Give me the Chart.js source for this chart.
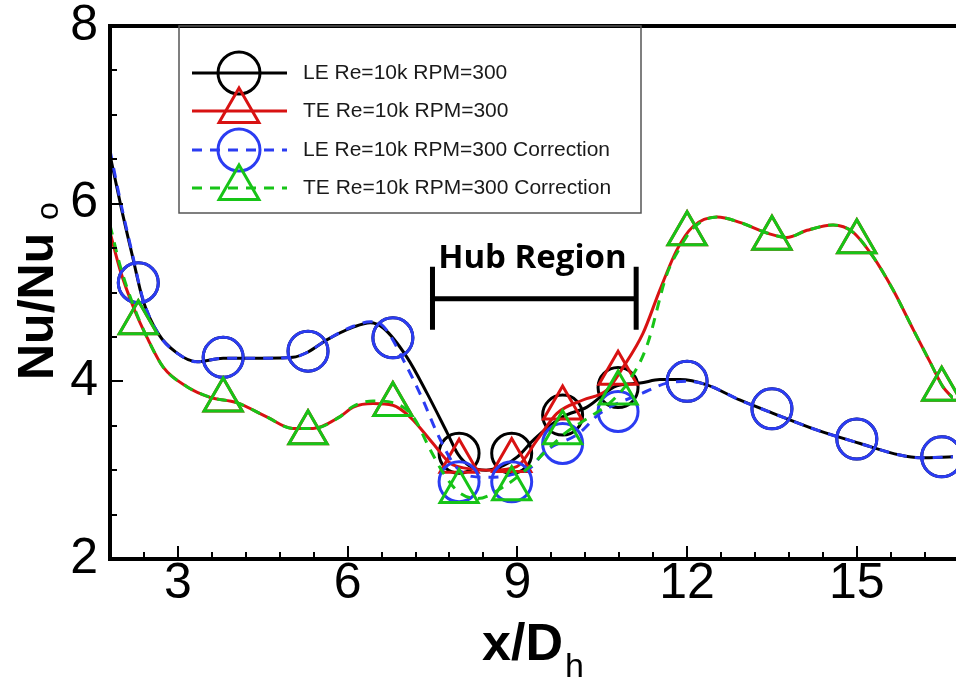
<!DOCTYPE html>
<html>
<head>
<meta charset="utf-8">
<script src="https://cdn.jsdelivr.net/npm/chart.js@4.4.0/dist/chart.umd.min.js"></script>
<style>
  html, body { margin: 0; padding: 0; background: #fff; }
  #wrap { width: 956px; height: 683px; position: relative; }
</style>
</head>
<body>
<div id="wrap"><canvas id="chart" width="956" height="683"></canvas></div>
<script>
// marker positions (x/Dh) and values
const markerX = [2.3, 3.8, 5.3, 6.8, 7.97, 8.9, 9.8, 10.78, 12.0, 13.5, 15.0, 16.5];
const leMarkY = [5.11, 4.27, 4.34, 4.49, 3.19, 3.19, 3.62, 3.93, 4.0, 3.69, 3.35, 3.15];
const teMarkY = [4.66, 3.79, 3.42, 3.74, 3.1, 3.11, 3.7, 4.09, 5.66, 5.61, 5.57, 3.91];
const leCorrMarkY = [5.11, 4.27, 4.34, 4.49, 2.87, 2.87, 3.3, 3.66, 4.0, 3.69, 3.35, 3.15];
const teCorrMarkY = [4.66, 3.79, 3.42, 3.74, 2.76, 2.79, 3.42, 3.87, 5.66, 5.61, 5.57, 3.91];

// curve points
const leLineX = [1.8, 2.0, 2.2, 2.38, 2.65, 2.98, 3.34, 3.8, 4.5, 5.03, 5.3, 5.64, 6.1, 6.4, 6.63, 7.05, 7.4, 7.76, 7.95, 8.15, 8.45, 8.75, 9.0, 9.3, 9.8, 10.23, 10.76, 11.17, 11.52, 11.87, 12.35, 12.93, 13.52, 14.3, 15.06, 15.76, 16.12, 16.7];
const leLineY = [6.55, 5.95, 5.4, 4.92, 4.54, 4.32, 4.22, 4.26, 4.26, 4.27, 4.33, 4.47, 4.61, 4.66, 4.6, 4.27, 3.87, 3.42, 3.18, 3.05, 3.0, 3.05, 3.15, 3.35, 3.6, 3.71, 3.95, 3.98, 4.02, 4.02, 3.96, 3.79, 3.64, 3.45, 3.3, 3.17, 3.14, 3.15];

const teLineX = [1.8, 1.98, 2.21, 2.45, 2.74, 3.16, 3.57, 4.04, 4.57, 5.03, 5.39, 5.86, 6.1, 6.45, 6.8, 7.1, 7.51, 7.81, 8.1, 8.57, 8.99, 9.35, 9.7, 10.16, 10.58, 10.87, 11.22, 11.52, 11.82, 12.1, 12.53, 12.93, 13.41, 13.76, 14.12, 14.58, 14.93, 15.29, 15.64, 16.0, 16.3, 16.52, 16.7];
const teLineY = [5.68, 5.25, 4.84, 4.5, 4.16, 3.94, 3.82, 3.76, 3.6, 3.47, 3.47, 3.6, 3.71, 3.75, 3.73, 3.6, 3.3, 3.08, 3.02, 3.0, 3.04, 3.34, 3.64, 3.79, 3.9, 4.16, 4.54, 5.03, 5.48, 5.74, 5.85, 5.79, 5.67, 5.62, 5.7, 5.76, 5.68, 5.4, 5.03, 4.58, 4.21, 3.94, 3.81];

const leCorrLineX = [1.8, 2.0, 2.2, 2.38, 2.65, 2.98, 3.34, 3.8, 4.5, 5.03, 5.3, 5.64, 6.1, 6.4, 6.63, 7.05, 7.33, 7.58, 7.9, 8.2, 8.5, 8.9, 9.28, 9.45, 10.1, 10.46, 11.22, 11.64, 12.0, 12.35, 12.93, 13.52, 14.3, 15.06, 15.76, 16.12, 16.7];
const leCorrLineY = [6.6, 5.98, 5.42, 4.93, 4.54, 4.32, 4.22, 4.26, 4.26, 4.27, 4.33, 4.47, 4.62, 4.67, 4.62, 4.16, 3.79, 3.42, 3.05, 2.93, 2.92, 2.95, 3.05, 3.19, 3.42, 3.64, 3.87, 3.98, 4.0, 3.96, 3.79, 3.64, 3.45, 3.3, 3.17, 3.14, 3.15];

const teCorrLineX = [1.8, 1.98, 2.21, 2.45, 2.74, 3.16, 3.57, 4.04, 4.57, 5.03, 5.39, 5.86, 6.1, 6.45, 6.8, 7.16, 7.46, 7.69, 7.95, 8.29, 8.75, 9.22, 9.58, 9.85, 10.28, 10.64, 10.99, 11.29, 11.64, 11.87, 12.1, 12.53, 12.93, 13.41, 13.76, 14.12, 14.58, 14.93, 15.29, 15.64, 16.0, 16.3, 16.52, 16.7];
const teCorrLineY = [5.76, 5.3, 4.86, 4.5, 4.16, 3.94, 3.82, 3.76, 3.6, 3.47, 3.47, 3.6, 3.72, 3.78, 3.76, 3.6, 3.23, 2.97, 2.76, 2.68, 2.81, 3.04, 3.26, 3.42, 3.6, 3.76, 4.02, 4.4, 5.2, 5.5, 5.72, 5.85, 5.79, 5.67, 5.62, 5.7, 5.76, 5.68, 5.4, 5.03, 4.58, 4.21, 3.94, 3.81];

const seriesNames = ['LE Re=10k RPM=300', 'TE Re=10k RPM=300', 'LE Re=10k RPM=300 Correction', 'TE Re=10k RPM=300 Correction'];
const xTickLabels = [3, 6, 9, 12, 15];
const yTickLabels = [2, 4, 6, 8];

const colors = ['#000000', '#d81212', '#2b3cf2', '#17c417'];
const styles = ['circle', 'triangle', 'circle', 'triangle'];
const dashes = [[], [], [10, 8], [10, 8]];

const pts = (xs, ys) => xs.map((x, i) => ({ x: x, y: ys[i] }));

const lines = [pts(leLineX, leLineY), pts(teLineX, teLineY), pts(leCorrLineX, leCorrLineY), pts(teCorrLineX, teCorrLineY)];
const marks = [pts(markerX, leMarkY), pts(markerX, teMarkY), pts(markerX, leCorrMarkY), pts(markerX, teCorrMarkY)];

const datasets = [];
for (let i = 0; i < 4; i++) {
    datasets.push({
        label: seriesNames[i],
        data: lines[i],
        borderColor: colors[i],
        borderWidth: 3,
        borderDash: dashes[i],
        pointRadius: 0,
        cubicInterpolationMode: 'monotone',
        fill: false,
        order: 20 - i * 2
    });
    datasets.push({
        label: seriesNames[i] + ' symbols',
        data: marks[i],
        showLine: false,
        pointStyle: styles[i],
        pointRadius: styles[i] === 'circle' ? 20 : 22,
        pointBorderWidth: 3,
        pointBorderColor: colors[i],
        pointBackgroundColor: 'rgba(0,0,0,0)',
        clip: false,
        order: 19 - i * 2
    });
}

// hub region annotation (in data units)
const hubText = 'Hub Region';
const hubFrom = 7.5, hubTo = 11.1, hubY = 4.93, hubCapLow = 4.58, hubCapHigh = 5.29;
const hubTextX = 7.6, hubTextY = 5.28;

const fontFamily = "'Liberation Sans', Arial, sans-serif";

// frame, inward ticks, titles, legend, annotation
const decorPlugin = {
    id: 'decor',
    afterDraw(chart) {
        const { ctx, chartArea: a, scales } = chart;
        const xs = scales.x, ys = scales.y;
        ctx.save();
        ctx.strokeStyle = '#000';
        ctx.lineCap = 'butt';

        // x ticks every 0.6, majors at multiples of 3
        ctx.lineWidth = 2;
        for (let k = 1; k < 25; k++) {
            const v = 1.8 + 0.6 * k;
            if (v > 16.7) break;
            const major = Math.abs(v / 3 - Math.round(v / 3)) < 1e-6;
            const px = Math.round(xs.getPixelForValue(v));
            ctx.beginPath();
            ctx.moveTo(px, a.bottom);
            ctx.lineTo(px, a.bottom - (major ? 13 : 7));
            ctx.stroke();
        }
        // y ticks every 0.5, majors at 2,4,6,8
        for (let k = 1; k < 12; k++) {
            const v = 2 + 0.5 * k;
            const major = Math.abs(v / 2 - Math.round(v / 2)) < 1e-6;
            const py = Math.round(ys.getPixelForValue(v));
            ctx.beginPath();
            ctx.moveTo(a.left, py);
            ctx.lineTo(a.left + (major ? 13 : 7), py);
            ctx.stroke();
        }

        // frame
        ctx.lineWidth = 4;
        ctx.lineJoin = 'miter';
        ctx.beginPath();
        ctx.moveTo(chart.width, a.top);
        ctx.lineTo(a.left, a.top);
        ctx.lineTo(a.left, a.bottom);
        ctx.lineTo(chart.width, a.bottom);
        ctx.stroke();

        // hub region bracket
        const hx1 = xs.getPixelForValue(hubFrom), hx2 = xs.getPixelForValue(hubTo);
        const hy = ys.getPixelForValue(hubY);
        const hLo = ys.getPixelForValue(hubCapLow), hHi = ys.getPixelForValue(hubCapHigh);
        ctx.lineWidth = 5;
        ctx.beginPath();
        ctx.moveTo(hx1, hy); ctx.lineTo(hx2, hy);
        ctx.moveTo(hx1, hLo); ctx.lineTo(hx1, hHi);
        ctx.moveTo(hx2, hLo); ctx.lineTo(hx2, hHi);
        ctx.stroke();
        ctx.fillStyle = '#000';
        ctx.font = "bold 33px 'Open Sans', sans-serif";
        ctx.textAlign = 'left';
        ctx.textBaseline = 'alphabetic';
        ctx.fillText(hubText, xs.getPixelForValue(hubTextX), ys.getPixelForValue(hubTextY));

        // legend
        const lx = 179, ly = a.top, lw = 462, lh = 187;
        ctx.fillStyle = '#fff';
        ctx.fillRect(lx, ly + 2, lw, lh - 2);
        ctx.lineWidth = 1.5;
        ctx.strokeStyle = '#555';
        ctx.strokeRect(lx, ly, lw, lh);
        const rowY = [73, 111, 150, 188];
        for (let i = 0; i < 4; i++) {
            ctx.strokeStyle = colors[i];
            ctx.lineWidth = 3;
            ctx.setLineDash(dashes[i]);
            ctx.beginPath();
            ctx.moveTo(192, rowY[i]);
            ctx.lineTo(287, rowY[i]);
            ctx.stroke();
            ctx.setLineDash([]);
            ctx.fillStyle = 'rgba(0,0,0,0)';
            Chart.helpers.drawPoint(ctx, {
                pointStyle: styles[i],
                radius: styles[i] === 'circle' ? 21 : 23,
                borderWidth: 3,
                rotation: 0
            }, 239, rowY[i]);
            ctx.fillStyle = '#1a1a1a';
            ctx.font = "21px " + fontFamily;
            ctx.textBaseline = 'middle';
            ctx.fillText(seriesNames[i], 303, rowY[i]);
        }

        // x axis title with subscript
        ctx.fillStyle = '#000';
        ctx.textBaseline = 'alphabetic';
        ctx.font = "bold 52px " + fontFamily;
        const mainW = ctx.measureText('x/D').width;
        ctx.font = "34px " + fontFamily;
        const subW = ctx.measureText('h').width;
        const startX = 533 - (mainW + subW + 2) / 2;
        ctx.font = "bold 52px " + fontFamily;
        ctx.fillText('x/D', startX, 660);
        ctx.font = "34px " + fontFamily;
        ctx.fillText('h', startX + mainW + 2, 677);

        // y axis title with subscript
        ctx.save();
        ctx.translate(53, 380);
        ctx.rotate(-Math.PI / 2);
        ctx.font = "bold 50px " + fontFamily;
        ctx.fillText('Nu/Nu', 0, 0);
        ctx.font = "32px " + fontFamily;
        ctx.fillText('o', 160, 5);
        ctx.restore();

        ctx.restore();
    }
};

new Chart(document.getElementById('chart'), {
    type: 'line',
    data: { datasets: datasets },
    options: {
        responsive: false,
        animation: false,
        layout: { autoPadding: false, padding: { top: 26, right: 3, left: 0, bottom: 0 } },
        plugins: { legend: { display: false }, tooltip: { enabled: false } },
        scales: {
            x: {
                type: 'linear',
                min: 1.8,
                max: 16.7,
                grid: { display: false, drawTicks: false },
                border: { display: false },
                afterBuildTicks: (scale) => { scale.ticks = xTickLabels.map(v => ({ value: v })); },
                afterFit: (scale) => { scale.height = 124; },
                ticks: { font: { family: fontFamily, size: 50, lineHeight: 1 }, color: '#000', padding: 0, maxRotation: 0, autoSkip: false }
            },
            y: {
                type: 'linear',
                min: 2,
                max: 8,
                grid: { display: false, drawTicks: false },
                border: { display: false },
                afterBuildTicks: (scale) => { scale.ticks = yTickLabels.map(v => ({ value: v })); },
                afterFit: (scale) => { scale.width = 110; },
                ticks: { font: { family: fontFamily, size: 50, lineHeight: 0.4 }, color: '#000', padding: 12 }
            }
        }
    },
    plugins: [decorPlugin]
});
</script>
</body>
</html>
